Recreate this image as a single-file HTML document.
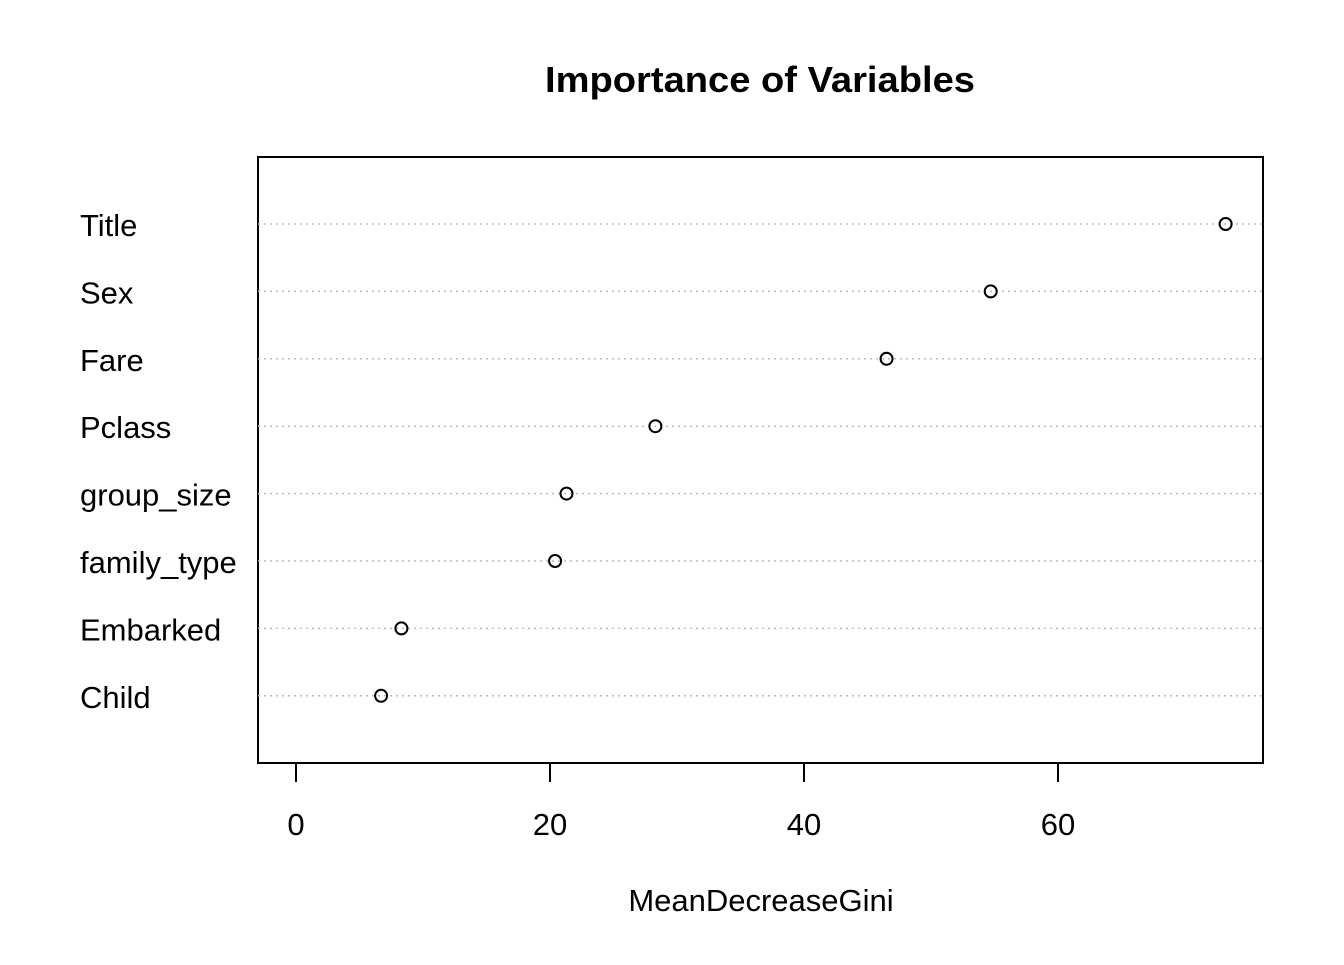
<!DOCTYPE html>
<html><head><meta charset="utf-8"><style>
body{margin:0;background:#fff;}
svg text{font-family:"Liberation Sans",Arial,sans-serif;}
</style></head><body>
<svg id="chart" width="1344" height="960" viewBox="0 0 1344 960" xmlns="http://www.w3.org/2000/svg">
<rect width="1344" height="960" fill="#fff"/>
<text x="545" y="92" font-size="36" font-weight="bold" textLength="430" lengthAdjust="spacingAndGlyphs">Importance of Variables</text>
<rect x="258" y="157" width="1005" height="606" fill="none" stroke="#000" stroke-width="2"/>
<text x="761" y="911" text-anchor="middle" font-size="31">MeanDecreaseGini</text>
<g id="rows"></g><g id="axis"></g>
</svg>
<script>
const categories=["Title","Sex","Fare","Pclass","group_size","family_type","Embarked","Child"];
const values=[73.2,54.7,46.5,28.3,21.3,20.4,8.3,6.7];
const xTicks=[0,20,40,60];
const NS="http://www.w3.org/2000/svg";
const x=v=>296+v*12.7;
const y=i=>224+i*67.4;
const rows=document.getElementById('rows'),axis=document.getElementById('axis');
function mk(t,a,p){const e=document.createElementNS(NS,t);for(const k in a)e.setAttribute(k,a[k]);p.appendChild(e);return e;}
categories.forEach((c,i)=>{
 const l=mk('line',{x1:258,x2:1263,y1:y(i),y2:y(i),stroke:'#bbb','stroke-width':1.5,'stroke-dasharray':'2,4'},rows);
 
 
 const t=mk('text',{x:80,y:y(i)+12,'font-size':31},rows);t.textContent=c;
 
 
 const p=mk('circle',{cx:x(values[i]),cy:y(i),r:6,fill:'none',stroke:'#000','stroke-width':2},rows);
 
 
});
xTicks.forEach(v=>{
 const l=mk('line',{x1:x(v),x2:x(v),y1:763,y2:782,stroke:'#000','stroke-width':2},axis);
 
 
 const t=mk('text',{x:x(v),y:835,'font-size':31,'text-anchor':'middle'},axis);t.textContent=v;
 
 
});
const al=mk('line',{x1:x(0),x2:x(60),y1:763,y2:763,stroke:'#000','stroke-width':2},axis);


</script>
</body></html>
